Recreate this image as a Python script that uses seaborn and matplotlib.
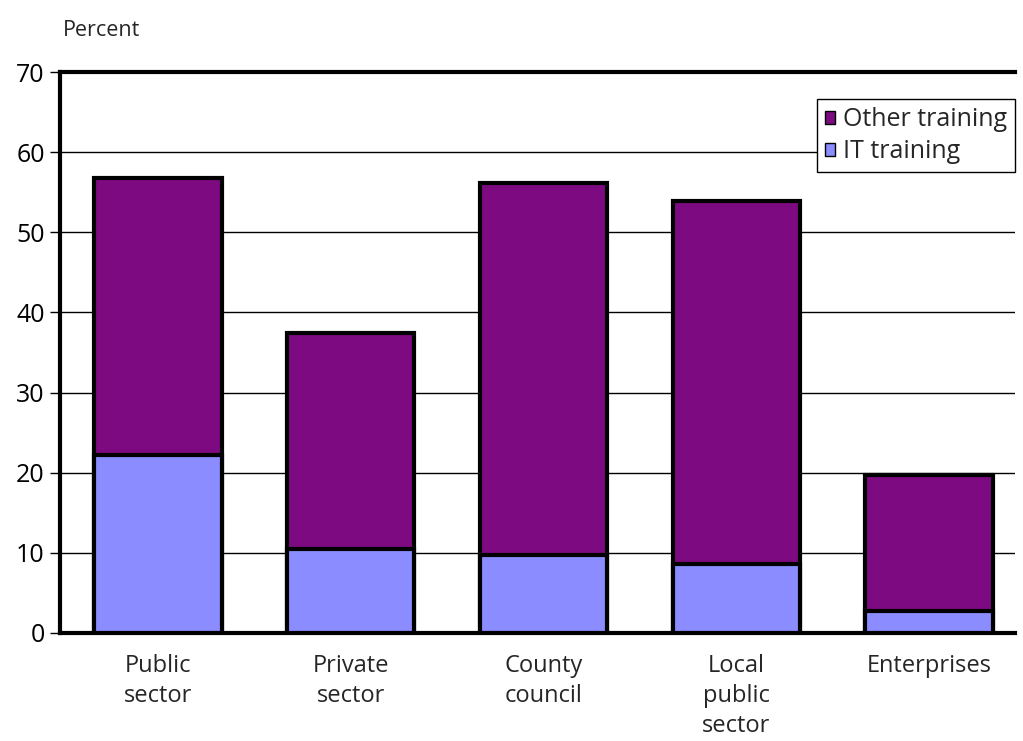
import matplotlib.pyplot as plt
import pandas as pd
import seaborn as sns
from matplotlib.patches import Patch

sns.set_style("white")
plt.rcParams["font.family"] = ["Open Sans", "DejaVu Sans"]

categories = ["Public\nsector", "Private\nsector", "County\ncouncil", "Local\npublic\nsector", "Enterprises"]
it_training = [22.2, 10.5, 9.7, 8.6, 2.7]
other_training = [34.6, 26.9, 46.5, 45.3, 17.0]

total = [a + b for a, b in zip(it_training, other_training)]
df = pd.DataFrame({"Category": categories, "IT": it_training, "Total": total})

OTHER_COLOR = "#7d0a80"
IT_COLOR = "#8a8cff"

fig = plt.figure(figsize=(10.23, 7.41), dpi=100)
ax = fig.add_axes([60 / 1023, 108 / 741, 955 / 1023, 561 / 741])

# stacked look: totals first, IT share drawn over them
sns.barplot(data=df, x="Category", y="Total", color=OTHER_COLOR, saturation=1,
            width=0.66, edgecolor="black", linewidth=3, ax=ax, zorder=3)
sns.barplot(data=df, x="Category", y="IT", color=IT_COLOR, saturation=1,
            width=0.66, edgecolor="black", linewidth=3, ax=ax, zorder=4)

ax.set_ylim(0, 70)
ax.set_xlim(-0.508, 4.446)
ax.set_yticks(range(0, 71, 10))
ax.yaxis.grid(True, color="black", linewidth=1)
ax.set_axisbelow(True)
ax.spines["right"].set_visible(False)
for side in ["left", "bottom", "top"]:
    ax.spines[side].set_linewidth(3)
    ax.spines[side].set_color("black")
ax.tick_params(axis="y", labelsize=18, length=7, width=1, left=True, direction="out",
               colors="black", pad=4)
ax.tick_params(axis="x", labelsize=17, length=0, pad=15)
for lbl in ax.get_xticklabels():
    lbl.set_linespacing(1.33)
ax.set_xlabel("")
ax.set_ylabel("")

fig.text(63 / 1023, 1 - 30 / 741, "Percent", fontsize=15.5, va="center", ha="left")

handles = [Patch(facecolor=OTHER_COLOR, edgecolor="black", label="Other training"),
           Patch(facecolor=IT_COLOR, edgecolor="black", label="IT training")]
leg = ax.legend(handles=handles, loc="upper right", bbox_to_anchor=(0.9995, 0.951),
                fontsize=18, frameon=True, fancybox=False, framealpha=1,
                handlelength=0.42, handleheight=0.42, handletextpad=0.3,
                borderpad=0.3, labelspacing=0.3, borderaxespad=0)
leg.get_frame().set_edgecolor("black")
leg.get_frame().set_linewidth(1)
leg.set_zorder(5)

fig.savefig("out.png", dpi=100)
